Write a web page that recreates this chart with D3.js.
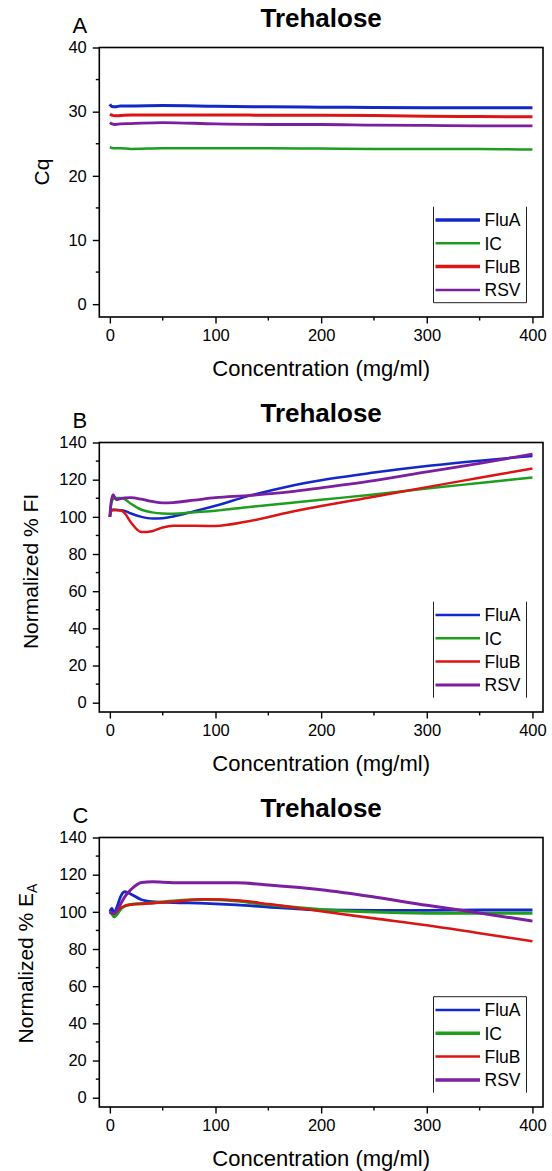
<!DOCTYPE html>
<html><head><meta charset="utf-8">
<script src="https://cdn.jsdelivr.net/npm/d3@7"></script>
<style>body{margin:0;background:#fff}svg{display:block}text{font-family:"Liberation Sans",Arial,sans-serif;fill:#000}</style>
</head><body>
<svg id="c" width="552" height="1171"></svg>
<script>
// ---- data ----
const seriesNames = ["FluA", "IC", "FluB", "RSV"];
const seriesColors = ["#1428c8", "#1e9e1e", "#dc1414", "#7b1fa0"];

// Panel A: Cq
const concA = [0, 2, 5, 10, 20, 50, 100, 150, 200, 250, 300, 350, 400];
const cqFluA = [31.15, 30.8, 30.75, 30.9, 30.9, 30.95, 30.85, 30.75, 30.7, 30.65, 30.6, 30.6, 30.6];
const cqIC   = [24.45, 24.35, 24.3, 24.3, 24.2, 24.3, 24.3, 24.3, 24.25, 24.2, 24.2, 24.2, 24.1];
const cqFluB = [29.6, 29.45, 29.35, 29.4, 29.5, 29.5, 29.5, 29.45, 29.45, 29.4, 29.3, 29.25, 29.2];
const cqRSV  = [28.3, 28.1, 28.0, 28.1, 28.15, 28.3, 28.1, 28.0, 28.0, 27.9, 27.85, 27.8, 27.8];

// Panel B: Normalized % FI
const concB = [0, 1, 3, 6, 10, 14, 20, 30, 40, 50, 60, 80, 100, 130, 170, 200, 250, 300, 350, 400];
const fiFluA = [100, 103, 104, 103.8, 103.6, 103.2, 101.8, 100, 99.1, 99.3, 100.2, 103, 106, 111, 116.5, 119.7, 123.8, 127.3, 130.2, 132.8];
const fiIC   = [100, 106, 109.5, 110.2, 110.2, 109.5, 107, 103.8, 102.4, 101.8, 101.7, 102.5, 103.3, 105.2, 107.5, 109.2, 112, 115.2, 118.2, 121.2];
const fiFluB = [100, 103.2, 103.5, 103.5, 103.4, 102, 97, 91.8, 92.3, 94.3, 95.2, 95.2, 95.1, 97.5, 102.5, 105.8, 110.8, 116, 121, 126];
const fiRSV  = [100, 107, 112, 109.3, 109.8, 110.2, 110.3, 109.5, 108.3, 107.5, 107.7, 109, 110.3, 111.4, 113.4, 115.6, 119.5, 124.2, 128.8, 133.7];

// Panel C: Normalized % EA
const concC = [0, 2, 4, 7, 10, 14, 20, 30, 40, 60, 90, 120, 150, 200, 250, 300, 350, 400];
const eaFluA = [100, 101.8, 99.5, 103, 108, 110.8, 109.5, 106.5, 105.5, 105, 104.6, 103.8, 102.6, 101, 100.8, 100.8, 101, 101];
const eaIC   = [100, 98.8, 97.3, 98.8, 101.3, 103, 104, 104.5, 104.8, 105.8, 106.6, 105.8, 103.8, 101.3, 99.9, 99.3, 99.2, 99.2];
const eaFluB = [100, 99.2, 99, 100.5, 102, 103.2, 103.9, 104.3, 104.7, 105.5, 106.8, 106.2, 104.2, 100.3, 96.5, 92.8, 88.5, 84.2];
const eaRSV  = [100, 99.4, 99, 101, 104, 108, 112, 115.8, 116.2, 115.7, 115.7, 115.6, 114.5, 111.9, 108, 103.5, 99.4, 95];

const xTicks = [0, 100, 200, 300, 400];
const yTicksA = [0, 10, 20, 30, 40];
const yTicksBC = [0, 20, 40, 60, 80, 100, 120, 140];

// ---- drawing ----
const svg = d3.select("#c");
svg.append("rect").attr("width", 552).attr("height", 1171).attr("fill", "#fff");

const L = 99.3, R = 543, H = 269.5;

function panel(cfg) {
  const top = cfg.top, bottom = top + H;
  const x = d3.scaleLinear().domain([-10, 410]).range([L, R]);
  const y = d3.scaleLinear().domain(cfg.ydom).range([bottom, top]);
  const g = svg.append("g");

  g.append("text").attr("x", (L + R) / 2).attr("y", top - 20.8).attr("text-anchor", "middle")
    .attr("font-size", 26).attr("font-weight", "bold").text("Trehalose");
  g.append("text").attr("x", 72.5).attr("y", top - 14.3).attr("font-size", 22).text(cfg.letter);

  const line = d3.line().x(d => x(d[0])).y(d => y(d[1])).curve(d3.curveMonotoneX);
  cfg.series.forEach((s, i) => {
    g.append("path").datum(cfg.conc.map((c, j) => [c, s[j]]))
      .attr("fill", "none").attr("stroke", seriesColors[i]).attr("stroke-width", cfg.lw[i])
      .attr("stroke-linejoin", "round").attr("d", line);
  });

  const minorX = d3.range(50, 400, 100);
  const minorY = d3.range(cfg.minorStep, cfg.ydom[1], cfg.minorStep * 2);
  const xAx = d3.axisBottom(x).tickValues(xTicks).tickSize(6.5).tickPadding(5).tickFormat(d3.format("d"));
  const xg = g.append("g").attr("transform", `translate(0,${bottom})`).call(xAx);
  const yAx = d3.axisLeft(y).tickValues(cfg.yticks).tickSize(6.5).tickPadding(6).tickFormat(d3.format("d"));
  const yg = g.append("g").attr("transform", `translate(${L},0)`).call(yAx);
  [xg, yg].forEach(a => {
    a.select(".domain").remove();
    a.selectAll(".tick line").attr("stroke", "#000").attr("stroke-width", 1.4);
    a.selectAll(".tick text").attr("font-size", 16.5).attr("font-family", '"Liberation Sans",Arial,sans-serif').attr("fill", "#000");
  });
  xg.selectAll(".tick text").attr("dy", "0.74em");
  g.append("g").selectAll("line").data(minorX).join("line")
    .attr("x1", d => x(d)).attr("x2", d => x(d)).attr("y1", bottom).attr("y2", bottom + 3.5)
    .attr("stroke", "#000").attr("stroke-width", 1.4);
  g.append("g").selectAll("line").data(minorY).join("line")
    .attr("y1", d => y(d)).attr("y2", d => y(d)).attr("x1", L).attr("x2", L - 3.5)
    .attr("stroke", "#000").attr("stroke-width", 1.4);

  g.append("rect").attr("x", L).attr("y", top).attr("width", R - L).attr("height", H)
    .attr("fill", "none").attr("stroke", "#000").attr("stroke-width", 1.6);

  g.append("text").attr("x", (L + R) / 2).attr("y", bottom + 59).attr("text-anchor", "middle")
    .attr("font-size", 22).text("Concentration (mg/ml)");
  const yt = g.append("text").attr("transform", `translate(${cfg.ylx},${top + cfg.ylc}) rotate(-90)`)
    .attr("text-anchor", "middle").attr("font-size", 21);
  yt.append("tspan").text(cfg.ylabel);
  if (cfg.ysub) yt.append("tspan").attr("font-size", 14).attr("dy", 4).text(cfg.ysub);

  const lt = top + 159.2, lb = lt + 96, lx0 = 433.5, lx1 = 526.5;
  const lg = g.append("g");
  const edge = (x1, y1, x2, y2) => lg.append("line").attr("x1", x1).attr("y1", y1).attr("x2", x2).attr("y2", y2)
    .attr("stroke", "#222").attr("stroke-width", 1);
  edge(lx0, lt, lx0, lb); edge(lx1, lt, lx1, lb);
  if (cfg.legTop) edge(lx0, lt, lx1, lt);
  if (cfg.legBottom) edge(lx0, lb, lx1, lb);
  seriesNames.forEach((n, i) => {
    const yy = lt + 13.3 + i * 23.3;
    lg.append("line").attr("x1", 435.5).attr("x2", 480).attr("y1", yy).attr("y2", yy)
      .attr("stroke", seriesColors[i]).attr("stroke-width", cfg.llw[i]);
    lg.append("text").attr("x", 484.5).attr("y", yy + 6.3).attr("font-size", 17.5).text(n);
  });
}

panel({ top: 47.5, letter: "A", ydom: [-2, 40], yticks: yTicksA, minorStep: 5, conc: concA,
  series: [cqFluA, cqIC, cqFluB, cqRSV], lw: [3, 2.5, 3, 2.8], llw: [3.5, 2.5, 3.5, 2.5],
  ylabel: "Cq", ylx: 49, ylc: 124.5, legTop: false, legBottom: true });
panel({ top: 442.5, letter: "B", ydom: [-5, 140], yticks: yTicksBC, minorStep: 10, conc: concB,
  series: [fiFluA, fiIC, fiFluB, fiRSV], lw: [2.5, 2.5, 2.5, 2.8], llw: [2.5, 2.5, 2.5, 3],
  ylabel: "Normalized % FI", ylx: 38, ylc: 129, legTop: false, legBottom: false });
panel({ top: 837.5, letter: "C", ydom: [-5, 140], yticks: yTicksBC, minorStep: 10, conc: concC,
  series: [eaFluA, eaIC, eaFluB, eaRSV], lw: [2.8, 3, 2.6, 3], llw: [2.5, 3.5, 2.5, 3.5],
  ylabel: "Normalized % E", ysub: "A", ylx: 33, ylc: 126, legTop: true, legBottom: false });
</script>
</body></html>
